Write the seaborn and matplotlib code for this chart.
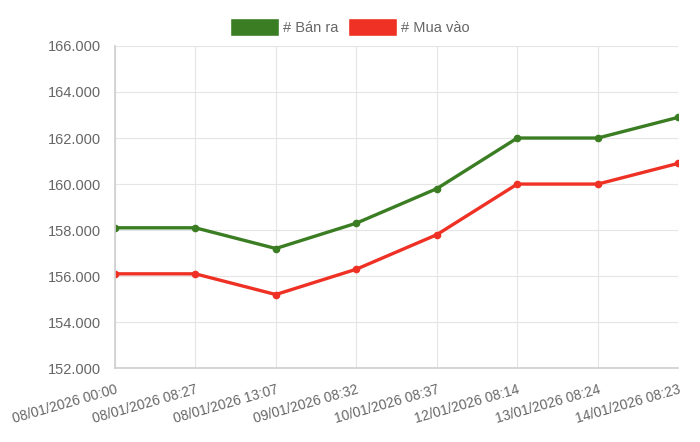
import matplotlib
matplotlib.use("Agg")
import matplotlib.pyplot as plt
import seaborn as sns
import pandas as pd
from matplotlib.ticker import FuncFormatter, MultipleLocator
from matplotlib.patches import Patch

labels = ["08/01/2026 00:00", "08/01/2026 08:27", "08/01/2026 13:07", "09/01/2026 08:32",
          "10/01/2026 08:37", "12/01/2026 08:14", "13/01/2026 08:24", "14/01/2026 08:23"]
ban_ra = [158100, 158100, 157200, 158300, 159800, 162000, 162000, 162900]
mua_vao = [156100, 156100, 155200, 156300, 157800, 160000, 160000, 160900]
series_names = ["# Bán ra", "# Mua vào"]
colors = ["#3a7d22", "#ee3124"]

sns.set_theme(style="white")
plt.rcParams['font.family'] = ['Liberation Sans', 'DejaVu Sans']

df = pd.DataFrame({
    "x": list(range(len(labels))) * 2,
    "value": ban_ra + mua_vao,
    "series": [series_names[0]] * len(labels) + [series_names[1]] * len(labels),
})

fig = plt.figure(figsize=(7, 4.42), dpi=100)
ax = fig.add_axes([0.164, 0.167, 0.805, 0.729])
sns.lineplot(data=df, x="x", y="value", hue="series", palette=colors, ax=ax,
             marker="o", markersize=5.5, markeredgewidth=0, linewidth=2.4, legend=False)

ax.set_xlim(0, len(labels) - 1)
ax.set_ylim(152000, 166000)
ax.yaxis.set_major_locator(MultipleLocator(2000))
ax.yaxis.set_major_formatter(FuncFormatter(lambda v, p: f"{v/1000:.3f}"))
ax.set_xticks(range(len(labels)))
ax.set_xticklabels(labels, rotation=16, ha="right", rotation_mode="anchor")
ax.set_xlabel("")
ax.set_ylabel("")
ax.grid(True, color="#e5e5e5", linewidth=0.8)
for s in ["top", "right"]:
    ax.spines[s].set_visible(False)
for s in ["left", "bottom"]:
    ax.spines[s].set_color("#d0d0d0")
ax.tick_params(axis="both", colors="#666666", labelsize=10.5, length=6, width=0.8)
ax.tick_params(axis="x", color="#d0d0d0", pad=4, labelsize=10)
ax.tick_params(axis="y", length=0, pad=10)
for t in ax.get_xticklabels() + ax.get_yticklabels():
    t.set_color("#666666")

handles = [Patch(facecolor=c, edgecolor="white", label=n) for c, n in zip(colors, series_names)]
fig.legend(handles=handles, loc="upper center", bbox_to_anchor=(0.5, 0.99), ncol=2,
           frameon=False, handlelength=3.3, handleheight=1.6, handletextpad=0.3,
           columnspacing=0.7, fontsize=10.5, labelcolor="#666666")

fig.savefig("out.png", dpi=100)
